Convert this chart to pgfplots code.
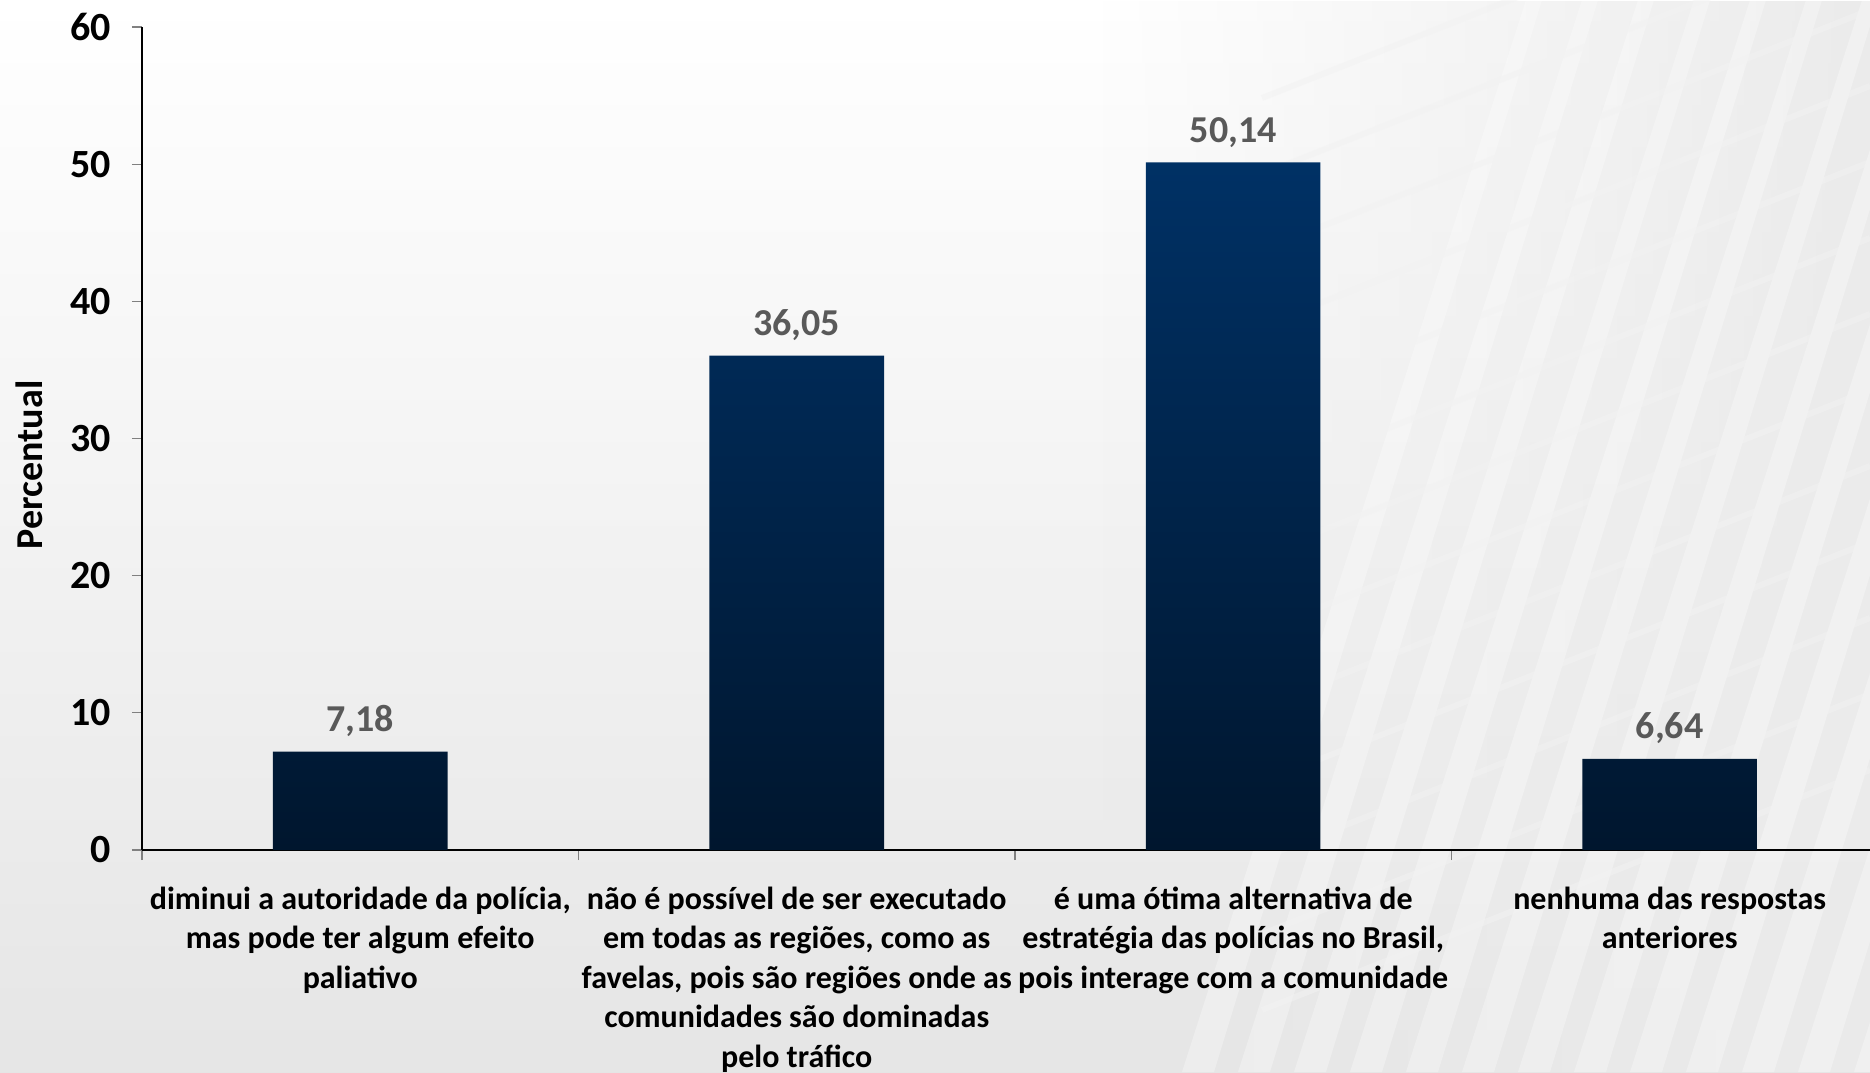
\documentclass[border=0pt]{standalone}
\usepackage{fontspec}
\setmainfont{Carlito}
\usepackage{pgfplots}
\pgfplotsset{compat=1.18}
\usetikzlibrary{fadings}
\definecolor{barTop}{RGB}{0,49,101}
\definecolor{barBot}{RGB}{0,22,46}
\definecolor{valGray}{RGB}{89,89,89}
\begin{document}
\begin{tikzpicture}
% page background: light grey wash, greyer to the right (building photo)
\shade[top color=white, bottom color=black!10] (-71pt,-111pt) rectangle (864pt,425pt);
\fill[black!8, path fading=west] (480pt,-111pt) rectangle (864pt,425pt);
\begin{scope}
  \clip (500pt,-111pt) rectangle (864pt,425pt);
  \foreach \k in {0,...,14} {
    \fill[white, opacity=0.3] (520pt+\k*28pt,-111pt) -- (536pt+\k*28pt,-111pt)
        -- (700pt+\k*28pt,425pt) -- (692pt+\k*28pt,425pt) -- cycle;
  }
  \foreach \k in {0,...,12} {
    \draw[black!5, line width=3pt, opacity=0.5] (560pt,-80pt+\k*38pt) -- (864pt,40pt+\k*38pt);
  }
\end{scope}
\begin{axis}[
    at={(0,0)}, anchor=south west,
    scale only axis, width=864pt, height=411.5pt,
    xmin=-0.5, xmax=3.459, ymin=0, ymax=60,
    axis x line=bottom, axis y line=left,
    axis line style={-, black, line width=0.7pt},
    ybar, bar width=0.4,
    ytick={0,10,20,30,40,50,60},
    /pgf/number format/assume math mode=true,
    yticklabel style={font=\fontsize{20}{24}\selectfont\bfseries, xshift=-7pt},
    tick align=outside, major tick length=5pt,
    tick style={draw=gray, line width=0.6pt},
    xtick={-0.5,0.5,1.5,2.5}, xticklabels={},
    extra x ticks={0,1,2,3},
    extra x tick style={major tick length=0pt},
    extra x tick labels={
        {diminui a autoridade da polícia,\\mas pode ter algum efeito\\paliativo},
        {não é possível de ser executado\\em todas as regiões, como as\\favelas, pois são regiões onde as\\comunidades são dominadas\\pelo tráfico},
        {é uma ótima alternativa de\\estratégia das polícias no Brasil,\\pois interage com a comunidade},
        {nenhuma das respostas\\anteriores}},
    xticklabel style={font=\fontsize{16}{19.7}\selectfont\bfseries, align=center, yshift=-15pt},
    ylabel={Percentual},
    ylabel style={at={(axis description cs:-0.065,0.468)}, anchor=center, rotate=0,
        font=\fontsize{19}{23}\selectfont\bfseries},
    point meta=explicit symbolic,
    nodes near coords,
    nodes near coords style={font=\fontsize{19}{23}\selectfont\bfseries, text=valGray, yshift=4pt},
]
\addplot[draw=none, top color=barTop, middle color=barTop!80!barBot, bottom color=barBot]
    coordinates {(0,7.18) [{7,18}] (1,36.05) [{36,05}] (2,50.14) [{50,14}] (3,6.64) [{6,64}]};
\end{axis}
\pgfresetboundingbox
\useasboundingbox (-71pt,-111pt) rectangle (864pt,425pt);
\end{tikzpicture}
\end{document}
